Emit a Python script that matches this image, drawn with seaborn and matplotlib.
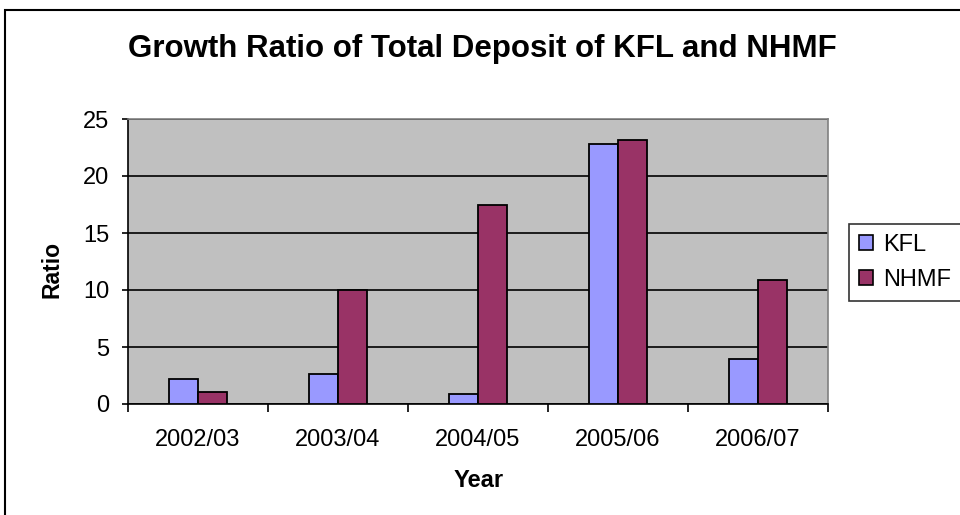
import matplotlib
matplotlib.use("Agg")
import matplotlib.pyplot as plt
import seaborn as sns
import pandas as pd
from matplotlib.patches import Rectangle, Patch

years = ["2002/03", "2003/04", "2004/05", "2005/06", "2006/07"]
kfl = [2.19, 2.63, 0.91, 22.84, 3.92]
nhmf = [1.08, 10.0, 17.49, 23.13, 10.91]
series = ["KFL", "NHMF"]
colors = ["#9999FF", "#993366"]

df = pd.DataFrame({
    "Year": years * 2,
    "Ratio": kfl + nhmf,
    "Series": ["KFL"] * len(years) + ["NHMF"] * len(years),
})

sns.set_style("white")
plt.rcParams["font.family"] = ["Liberation Sans", "DejaVu Sans"]
for k in ["text.color", "axes.labelcolor", "xtick.color", "ytick.color"]:
    plt.rcParams[k] = "black"

W, H = 960, 515
fig = plt.figure(figsize=(W / 100, H / 100), dpi=100)
ax = fig.add_axes([128/W, 1-404/H, 700/W, 285/H])
ax.set_facecolor("#C0C0C0")

sns.barplot(data=df, x="Year", y="Ratio", hue="Series", palette=colors,
            order=years, hue_order=series, width=0.41, edgecolor="black",
            linewidth=1.3, saturation=1, ax=ax, legend=False, zorder=3)

ax.set_xlim(-0.5, len(years) - 0.5)
ax.set_ylim(0, 25)
ax.set_yticks([0, 5, 10, 15, 20, 25])
ax.grid(axis="y", color="black", linewidth=1.2, zorder=1)
ax.set_axisbelow(True)
for s in ["top", "right"]:
    ax.spines[s].set_color("#808080")
    ax.spines[s].set_linewidth(1.2)
for s in ["left", "bottom"]:
    ax.spines[s].set_color("black")
    ax.spines[s].set_linewidth(1.2)

ax.tick_params(axis="y", direction="out", length=4.5, width=1.2, color="black",
               labelsize=17, left=True, pad=9)
ax.tick_params(axis="x", which="major", length=0, labelsize=17, pad=18)
ax.set_xticks([i - 0.5 for i in range(len(years) + 1)], minor=True)
ax.tick_params(axis="x", which="minor", direction="out", length=5.5, width=1.2,
               color="black", bottom=True)

ax.set_xlabel("")
ax.set_ylabel("")
fig.text(479/W, 1 - 487/H, "Year", ha="center", va="baseline",
         fontsize=17, fontweight="bold")
fig.text(52/W, 1 - 269/H, "Ratio", ha="center", va="center", rotation=90,
         fontsize=16.5, fontweight="bold")

fig.text(482/W, 1 - 57/H, "Growth Ratio of Total Deposit of KFL and NHMF",
         ha="center", va="baseline", fontsize=22.5, fontweight="bold")

handles = [Patch(facecolor=c, edgecolor="black", linewidth=1.2) for c in colors]
leg = fig.legend(handles, series, loc="upper left",
                 bbox_to_anchor=(849/W, 1 - 224/H), fontsize=17,
                 frameon=True, fancybox=False, edgecolor="black",
                 handlelength=0.6, handleheight=0.6, handletextpad=0.42,
                 borderpad=0.42, labelspacing=0.55, borderaxespad=0)
leg.get_frame().set_linewidth(1.2)

fig.patches.append(Rectangle((5/W, -0.05), 1.2, 1.05 - 10/H,
                             transform=fig.transFigure, fill=False,
                             edgecolor="black", linewidth=1.5, clip_on=False))

fig.savefig("out.png", dpi=100)
